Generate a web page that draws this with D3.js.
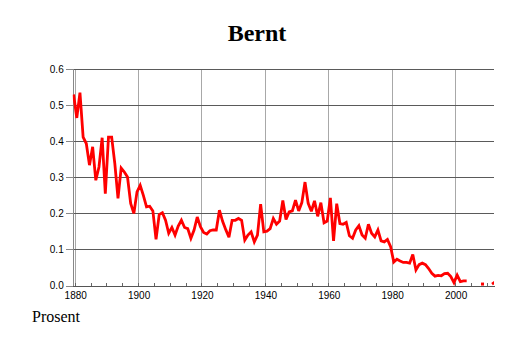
<!DOCTYPE html>
<html>
<head>
<meta charset="utf-8">
<script src="https://cdn.jsdelivr.net/npm/d3@7"></script>
<style>
  html, body { margin: 0; padding: 0; background: #fff; }
  svg { display: block; }
</style>
</head>
<body>
<div id="chart"></div>
<script>
// ---- data ----
const title = "Bernt";
const yAxisLabel = "Prosent";
const firstYear = 1879;
const lastYear = 2012;
const shareValues = [
  0.530, 0.465, 0.535, 0.412, 0.394, 0.334, 0.385, 0.292, 0.329, 0.410, // 1879-1888
  0.255, 0.412, 0.412, 0.338, 0.242, 0.326, 0.315, 0.301, 0.228, 0.200, // 1889-1898
  0.260, 0.278, 0.250, 0.218, 0.220, 0.207, 0.128, 0.197, 0.202, 0.181, // 1899-1908
  0.145, 0.161, 0.140, 0.165, 0.181, 0.161, 0.158, 0.131, 0.154, 0.190, // 1909-1918
  0.163, 0.147, 0.143, 0.152, 0.154, 0.154, 0.209, 0.178, 0.155, 0.134, // 1919-1928
  0.181, 0.181, 0.186, 0.181, 0.126, 0.140, 0.149, 0.121, 0.140, 0.226, // 1929-1938
  0.149, 0.151, 0.158, 0.186, 0.170, 0.179, 0.236, 0.183, 0.204, 0.207, // 1939-1948
  0.237, 0.207, 0.230, 0.287, 0.228, 0.206, 0.235, 0.192, 0.230, 0.174, // 1949-1958
  0.179, 0.243, 0.124, 0.227, 0.172, 0.170, 0.175, 0.138, 0.131, 0.154, // 1959-1968
  0.166, 0.140, 0.131, 0.170, 0.145, 0.135, 0.154, 0.124, 0.121, 0.128, // 1969-1978
  0.108, 0.065, 0.073, 0.068, 0.064, 0.064, 0.062, 0.086, 0.043, 0.058, // 1979-1988
  0.062, 0.058, 0.047, 0.034, 0.026, 0.028, 0.027, 0.033, 0.034, 0.025, // 1989-1998
  0.008, 0.029, 0.011, 0.013, 0.013, null,  null,  null,  null,  0.004, // 1999-2008
  null,  null,  0.004, 0.010                                             // 2009-2012
];
const yTicks = [0, 0.1, 0.2, 0.3, 0.4, 0.5, 0.6];
const xMajorTicks = [1880, 1900, 1920, 1940, 1960, 1980, 2000];

const data = shareValues.map((v, i) => ({ year: firstYear + i, value: v }));

// ---- layout ----
const W = 514, H = 343;
const plot = { left: 72.7, right: 494, top: 69.3, bottom: 285.5 };

const svg = d3.select("#chart").append("svg")
  .attr("width", W).attr("height", H)
  .style("font-family", "'Liberation Sans', Arial, Helvetica, sans-serif");

const x = d3.scaleLinear().domain([1879.21, 2012.12]).range([plot.left, plot.right]);
const y = d3.scaleLinear().domain([0, 0.6]).range([plot.bottom, plot.top]);

// title
svg.append("text")
  .attr("x", 257).attr("y", 41)
  .attr("text-anchor", "middle")
  .style("font-family", "'Liberation Serif', 'Times New Roman', serif")
  .style("font-weight", "bold")
  .style("font-size", "24px")
  .attr("fill", "#000")
  .text(title);

// vertical gridlines (major)
svg.append("g").selectAll("line").data(xMajorTicks).join("line")
  .attr("x1", d => x(d)).attr("x2", d => x(d))
  .attr("y1", plot.top).attr("y2", plot.bottom)
  .attr("stroke", "#a8a8a8").attr("stroke-width", 1)
  .attr("shape-rendering", "crispEdges");

// horizontal gridlines
svg.append("g").selectAll("line").data(yTicks.filter(d => d > 0)).join("line")
  .attr("x1", plot.left).attr("x2", plot.right)
  .attr("y1", d => y(d)).attr("y2", d => y(d))
  .attr("stroke", "#5a5a5a").attr("stroke-width", 1)
  .attr("shape-rendering", "crispEdges");

// y axis
const yAxis = d3.axisLeft(y).tickValues(yTicks).tickFormat(d3.format(".1f")).tickSize(7).tickPadding(2);
const gy = svg.append("g").attr("transform", `translate(${plot.left},0)`).call(yAxis);
gy.select(".domain").attr("stroke", "#888").attr("shape-rendering", "crispEdges");
gy.selectAll(".tick line").attr("stroke", "#888").attr("shape-rendering", "crispEdges");
gy.selectAll("text").style("font-size", "10px").attr("fill", "#000");

// x axis: minor ticks inward every 5 years
const minorTicks = d3.range(1880, 2013, 5);
svg.append("g").selectAll("line").data(minorTicks).join("line")
  .attr("x1", d => x(d)).attr("x2", d => x(d))
  .attr("y1", plot.bottom).attr("y2", plot.bottom - 3)
  .attr("stroke", "#666").attr("shape-rendering", "crispEdges");

const xAxis = d3.axisBottom(x).tickValues(xMajorTicks).tickFormat(d3.format("d")).tickSize(0).tickPadding(6);
const gx = svg.append("g").attr("transform", `translate(0,${plot.bottom})`).call(xAxis);
gx.select(".domain").attr("stroke", "#555").attr("shape-rendering", "crispEdges");
gx.selectAll("text").style("font-size", "10px").attr("fill", "#000");

// clip
svg.append("clipPath").attr("id", "clip").append("rect")
  .attr("x", plot.left).attr("y", 0).attr("width", plot.right - plot.left).attr("height", H);

// series line (values plotted at mid-year)
const line = d3.line()
  .defined(d => d.value !== null)
  .x(d => x(d.year + 0.5))
  .y(d => y(d.value));

const gLine = svg.append("g").attr("clip-path", "url(#clip)");
gLine.append("path")
  .datum(data)
  .attr("d", line)
  .attr("fill", "none")
  .attr("stroke", "#ff0000")
  .attr("stroke-width", 2.8)
  .attr("stroke-linejoin", "miter")
  .attr("stroke-miterlimit", 3);

// isolated points
const isolated = data.filter((d, i) => d.value !== null &&
  (i === 0 || data[i - 1].value === null) &&
  (i === data.length - 1 || data[i + 1].value === null));
gLine.selectAll("rect.iso").data(isolated).join("rect")
  .attr("class", "iso")
  .attr("x", d => x(d.year + 0.5) - 1.5).attr("y", d => y(d.value) - 1.5)
  .attr("width", 3).attr("height", 3)
  .attr("fill", "#ff0000");

// y axis title
svg.append("text")
  .attr("x", 32).attr("y", 322)
  .style("font-family", "'Liberation Serif', 'Times New Roman', serif")
  .style("font-size", "16px")
  .attr("fill", "#000")
  .text(yAxisLabel);
</script>
</body>
</html>
